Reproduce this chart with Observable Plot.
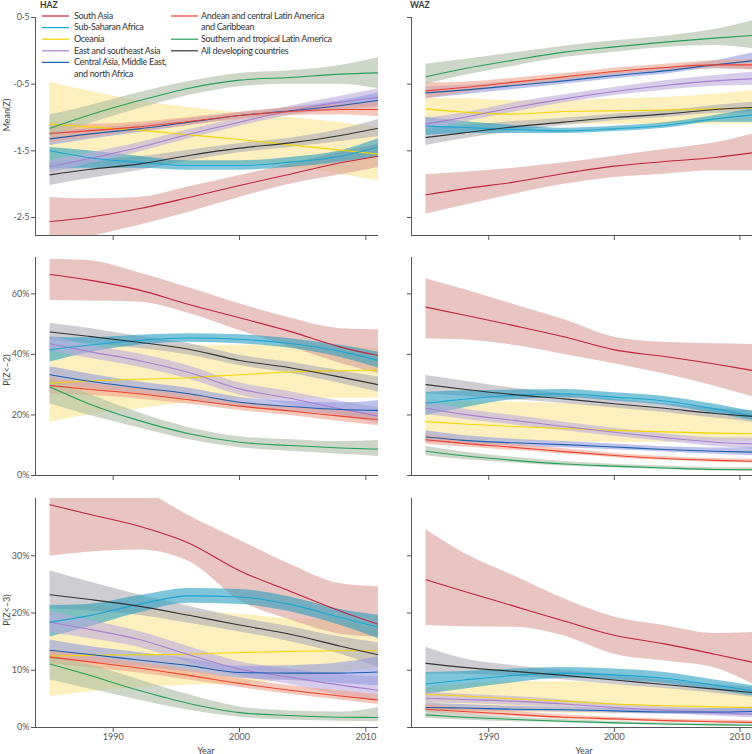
<!DOCTYPE html>
<html><head><meta charset="utf-8">
<script src="https://cdn.jsdelivr.net/npm/d3@7"></script>
<script src="https://cdn.jsdelivr.net/npm/@observablehq/plot@0.6"></script>
<style>
body{margin:0;background:#fff;}
#wrap{position:relative;width:752px;height:754px;overflow:hidden;font-family:Lato,"Open Sans",sans-serif;color:#333;}
.p{position:absolute;}
.t{position:absolute;white-space:nowrap;font-size:9px;letter-spacing:-0.3px;line-height:11.6px;color:#333;}
.ttl{position:absolute;font-weight:bold;font-size:8.5px;line-height:10px;color:#333;}
.yl{position:absolute;font-size:9px;color:#444;white-space:nowrap;transform:translate(-50%,-50%) rotate(-90deg);}
.xl{position:absolute;font-size:9px;color:#444;white-space:nowrap;transform:translate(-50%,-50%);}
#lgsvg{position:absolute;left:0;top:0;}
</style></head>
<body><div id="wrap"></div>
<script>
// ---------------- data ----------------
const years = [1985, 1988, 1992, 1996, 2000, 2004, 2008, 2011];
const regions = ["South Asia", "Sub-Saharan Africa", "Oceania", "East and southeast Asia",
  "Central Asia, Middle East, and north Africa", "Andean and central Latin America and Caribbean",
  "Southern and tropical Latin America", "All developing countries"];
const xTicks = [1990, 2000, 2010];
const meanTicks = [0.5, -0.5, -1.5, -2.5];
const p2Ticks = [0, 20, 40, 60];
const p3Ticks = [0, 10, 20, 30];

// HAZ mean(Z)
const hazMeanMid = [
  [-2.56, -2.5, -2.37, -2.2, -2.02, -1.85, -1.68, -1.58],
  [-1.5, -1.6, -1.67, -1.72, -1.72, -1.67, -1.58, -1.44],
  [-1.1, -1.14, -1.19, -1.26, -1.33, -1.41, -1.49, -1.55],
  [-1.74, -1.62, -1.45, -1.25, -1.07, -0.9, -0.77, -0.7],
  [-1.32, -1.25, -1.17, -1.07, -0.97, -0.9, -0.82, -0.74],
  [-1.24, -1.2, -1.14, -1.06, -0.97, -0.91, -0.88, -0.88],
  [-1.16, -0.97, -0.75, -0.56, -0.44, -0.4, -0.35, -0.33],
  [-1.86, -1.78, -1.7, -1.57, -1.46, -1.38, -1.27, -1.16]];
const hazMeanLo = [
  [-2.95, -2.8, -2.62, -2.42, -2.2, -2.0, -1.86, -1.75],
  [-1.78, -1.76, -1.76, -1.79, -1.79, -1.75, -1.67, -1.58],
  [-1.75, -1.72, -1.7, -1.7, -1.7, -1.75, -1.85, -1.95],
  [-1.83, -1.7, -1.52, -1.32, -1.13, -0.97, -0.85, -0.82],
  [-1.42, -1.33, -1.23, -1.12, -1.02, -0.95, -0.89, -0.85],
  [-1.38, -1.3, -1.21, -1.12, -1.03, -0.97, -0.96, -0.99],
  [-1.28, -1.1, -0.87, -0.67, -0.54, -0.5, -0.5, -0.57],
  [-2.02, -1.92, -1.8, -1.65, -1.53, -1.45, -1.36, -1.29]];
const hazMeanHi = [
  [-2.2, -2.22, -2.2, -2.04, -1.87, -1.7, -1.52, -1.4],
  [-1.45, -1.5, -1.58, -1.65, -1.65, -1.6, -1.5, -1.32],
  [-0.47, -0.6, -0.75, -0.85, -0.93, -1.0, -1.08, -1.15],
  [-1.65, -1.54, -1.38, -1.18, -1.01, -0.83, -0.68, -0.57],
  [-1.22, -1.17, -1.11, -1.02, -0.93, -0.85, -0.75, -0.63],
  [-1.1, -1.1, -1.07, -1.0, -0.92, -0.85, -0.8, -0.77],
  [-0.96, -0.83, -0.63, -0.46, -0.34, -0.3, -0.22, -0.1],
  [-1.68, -1.64, -1.59, -1.49, -1.39, -1.31, -1.18, -1.03]];

// WAZ mean(Z)
const wazMeanMid = [
  [-2.16, -2.07, -1.97, -1.84, -1.73, -1.66, -1.6, -1.53],
  [-1.13, -1.15, -1.18, -1.2, -1.17, -1.12, -1.02, -0.96],
  [-0.87, -0.92, -0.95, -0.91, -0.9, -0.89, -0.87, -0.86],
  [-1.1, -1.0, -0.85, -0.72, -0.61, -0.52, -0.45, -0.42],
  [-0.63, -0.59, -0.52, -0.45, -0.37, -0.3, -0.21, -0.15],
  [-0.6, -0.55, -0.47, -0.39, -0.31, -0.25, -0.21, -0.21],
  [-0.39, -0.27, -0.14, -0.02, 0.06, 0.13, 0.19, 0.23],
  [-1.3, -1.23, -1.14, -1.07, -1.0, -0.95, -0.88, -0.85]];
const wazMeanLo = [
  [-2.45, -2.32, -2.15, -2.0, -1.9, -1.85, -1.8, -1.8],
  [-1.27, -1.24, -1.24, -1.24, -1.21, -1.16, -1.07, -1.07],
  [-1.1, -1.12, -1.12, -1.1, -1.1, -1.1, -1.1, -1.1],
  [-1.18, -1.07, -0.92, -0.78, -0.67, -0.59, -0.53, -0.52],
  [-0.72, -0.66, -0.58, -0.5, -0.42, -0.35, -0.27, -0.28],
  [-0.72, -0.63, -0.53, -0.44, -0.36, -0.3, -0.27, -0.29],
  [-0.5, -0.37, -0.23, -0.1, -0.02, 0.05, 0.08, 0.03],
  [-1.42, -1.32, -1.21, -1.12, -1.05, -1.0, -0.94, -0.93]];
const wazMeanHi = [
  [-1.86, -1.82, -1.76, -1.68, -1.58, -1.48, -1.38, -1.25],
  [-1.0, -1.06, -1.12, -1.16, -1.13, -1.08, -0.97, -0.87],
  [-0.72, -0.72, -0.75, -0.75, -0.72, -0.7, -0.65, -0.6],
  [-1.02, -0.93, -0.78, -0.66, -0.55, -0.45, -0.37, -0.32],
  [-0.54, -0.52, -0.46, -0.4, -0.32, -0.25, -0.15, -0.03],
  [-0.48, -0.47, -0.41, -0.34, -0.26, -0.2, -0.15, -0.13],
  [-0.2, -0.13, -0.03, 0.07, 0.15, 0.22, 0.32, 0.45],
  [-1.15, -1.12, -1.06, -1.01, -0.95, -0.9, -0.82, -0.77]];

// HAZ P(Z<-2), %
const hazP2Mid = [
  [66.4, 64.6, 61.3, 56.5, 52.1, 47.6, 42.4, 39.6],
  [41.5, 43, 44.6, 45.4, 45, 43.6, 41, 38],
  [30.5, 31.2, 31.8, 32.3, 33.3, 34.2, 34.6, 34.8],
  [43.5, 41, 38, 34, 28.6, 25.5, 22, 19.6],
  [33.3, 31.2, 29, 27, 24.2, 22.8, 21.8, 21.5],
  [29.7, 28.5, 27, 25, 22.9, 21.3, 19.6, 18.4],
  [29.2, 23.8, 18.2, 13.8, 11, 9.9, 9.1, 8.7],
  [47.4, 46, 44, 41.7, 38, 35.6, 32.5, 30]];
const hazP2Lo = [
  [57.8, 57.6, 57.3, 53.5, 47.9, 42.5, 37, 33.6],
  [37.5, 40.5, 43, 44, 43.5, 42, 39, 35.5],
  [17.5, 20, 22, 24, 25, 25.5, 25.5, 25.5],
  [41, 38.8, 35.8, 31.8, 26.6, 23.3, 19.8, 17],
  [30.5, 28.8, 27, 25.2, 22.6, 21.2, 19.8, 18.2],
  [27, 26.5, 25.3, 23.5, 21.5, 19.8, 17.8, 16.4],
  [23.7, 20, 15.8, 11.8, 9.2, 8, 7, 6.3],
  [44.5, 43.5, 42, 39.8, 36.3, 33.8, 30.4, 27.5]];
const hazP2Hi = [
  [71.4, 71, 67, 62, 56.7, 52, 48.5, 48.1],
  [45.7, 45.5, 46.3, 46.8, 46.5, 45.2, 43, 40.7],
  [43, 43, 43, 43, 43, 43, 42.5, 42],
  [46, 43.2, 40.2, 36.2, 30.6, 27.7, 24.5, 22.5],
  [36, 33.6, 31, 28.8, 25.8, 24.4, 24, 24.8],
  [32.4, 30.5, 28.7, 26.5, 24.3, 22.8, 21.4, 20.4],
  [31.8, 27, 20.8, 15.8, 12.8, 11.8, 11.2, 11.6],
  [50.3, 48.6, 46, 43.6, 39.7, 37.4, 34.6, 32.5]];

// WAZ P(Z<-2), %
const wazP2Mid = [
  [55.6, 53, 49.5, 45.8, 41.5, 39.3, 36.8, 34.7],
  [23.9, 25.2, 26.5, 27, 25.9, 24.6, 22, 19.6],
  [17.8, 17, 16.2, 15.5, 14.9, 14.4, 14, 13.8],
  [22.2, 20.2, 18.2, 16.2, 14.3, 12.5, 11, 10.5],
  [12.7, 11.6, 10.8, 10.2, 9.4, 8.6, 8, 7.7],
  [11.8, 10.6, 9.3, 7.9, 6.6, 5.6, 5, 4.7],
  [8, 6.5, 5, 3.8, 3.1, 2.5, 2, 1.9],
  [30, 28.5, 26.7, 25.3, 23.7, 22.2, 20.5, 19.5]];
const wazP2Lo = [
  [45.2, 44.8, 43, 40, 36.9, 33.5, 29.5, 26],
  [19.8, 22.3, 25, 25.7, 24.6, 23.2, 20.5, 18.2],
  [12, 11.5, 11.3, 11.1, 11, 11, 11.3, 11.6],
  [20.2, 18.6, 16.7, 14.8, 13, 11.2, 9.6, 8.8],
  [11, 10.3, 9.7, 9.2, 8.5, 7.8, 7, 6.5],
  [10.3, 9.4, 8.3, 7.1, 5.9, 5, 4.4, 4.1],
  [6.5, 5.3, 4.1, 3.1, 2.5, 2, 1.5, 1.3],
  [27, 26.2, 25, 23.8, 22.3, 20.8, 19, 17.6]];
const wazP2Hi = [
  [65, 61.5, 56.5, 51.5, 45.7, 44, 43.5, 43.3],
  [27.5, 28, 28.2, 28.4, 27.3, 26.1, 23.5, 21.2],
  [24.5, 24.5, 24.2, 23.8, 23.2, 21.8, 20, 18.7],
  [24.5, 22, 19.8, 17.6, 15.6, 13.8, 12.5, 12.4],
  [14.8, 13.2, 12, 11.2, 10.4, 9.5, 9.1, 9.2],
  [13.5, 11.8, 10.3, 8.8, 7.3, 6.3, 5.6, 5.4],
  [9.6, 7.8, 6, 4.6, 3.7, 3.1, 2.6, 2.6],
  [33, 31.2, 28.8, 27, 25.2, 23.7, 22.1, 21.4]];

// HAZ P(Z<-3), %
const hazP3Mid = [
  [38.9, 37.3, 35.2, 32.2, 27.4, 23.8, 20.3, 18],
  [18.4, 19.5, 21.5, 23, 22.8, 21.5, 19.2, 17.5],
  [12.5, 12.6, 12.7, 12.8, 13.1, 13.3, 13.4, 13.4],
  [18.4, 17.2, 15.4, 12.7, 10.2, 8.8, 7.4, 6.5],
  [13.5, 12.8, 11.8, 10.8, 9.6, 9.5, 9.5, 9.7],
  [12.3, 11.5, 10.4, 9.1, 7.7, 6.5, 5.5, 4.8],
  [11.1, 9.2, 6.5, 4.2, 2.6, 2.1, 1.8, 1.75],
  [23.2, 22.4, 21.2, 19.6, 17.9, 16.3, 14.2, 12.7]];
const hazP3Lo = [
  [29.9, 30.6, 31, 29, 22.2, 18.8, 16.3, 15.8],
  [15.8, 17.5, 20, 21.7, 21.5, 20.2, 17.8, 15.5],
  [5.4, 6.2, 7, 7.4, 7.6, 8.5, 9.6, 10.5],
  [16.5, 15.6, 14, 11.3, 9, 7.5, 5.6, 4.7],
  [12, 11.5, 10.6, 9.7, 8.6, 8.2, 7.7, 7.3],
  [11.2, 10.5, 9.5, 8.3, 7, 5.8, 4.8, 4],
  [8.3, 6.8, 4.8, 3, 1.8, 1.3, 1.1, 1],
  [20.7, 20.4, 19.6, 18.2, 16.7, 15, 12.8, 10.5]];
const hazP3Hi = [
  [48, 46, 42, 37, 32.7, 28.5, 25.1, 24.6],
  [21.3, 21.5, 23, 24.3, 24.1, 22.8, 20.6, 19.6],
  [21, 21.3, 20.8, 20.2, 19.8, 19, 18.7, 17],
  [20.3, 18.8, 16.8, 14.1, 11.5, 10.2, 9.2, 8.8],
  [15.3, 14.2, 13.1, 12, 10.7, 10.8, 11.3, 12.3],
  [13.5, 12.5, 11.3, 10, 8.5, 7.3, 6.4, 5.7],
  [12.3, 11, 8.4, 5.7, 3.6, 2.9, 2.7, 3.5],
  [27.4, 25.5, 23.2, 21.2, 19.2, 17.6, 15.8, 14.8]];

// WAZ P(Z<-3), %
const wazP3Mid = [
  [25.8, 23.8, 21.2, 18.6, 16.1, 14.6, 12.8, 11.4],
  [7.6, 8.3, 9.1, 9.5, 9.2, 8.6, 7.4, 6.4],
  [5.8, 5.5, 5, 4.6, 4.1, 3.8, 3.6, 3.5],
  [5.1, 4.9, 4.6, 4.1, 3.5, 3, 2.6, 2.3],
  [3.5, 3.4, 3.2, 3.1, 2.9, 2.7, 2.7, 2.8],
  [3.2, 2.8, 2.3, 1.8, 1.5, 1.2, 1, 0.9],
  [2.2, 1.8, 1.4, 1.1, 0.8, 0.6, 0.45, 0.4],
  [11.2, 10.5, 9.8, 9.1, 8.3, 7.5, 6.7, 6.1]];
const wazP3Lo = [
  [17.8, 17.6, 17.5, 16, 12.8, 11.6, 10.4, 7.6],
  [5.8, 6.7, 7.8, 8.6, 8.3, 7.7, 6.5, 5.5],
  [3, 2.8, 2.6, 2.5, 2.4, 2.5, 2.6, 2.7],
  [4.3, 4.2, 3.9, 3.5, 3, 2.5, 2, 1.7],
  [2.9, 2.9, 2.8, 2.7, 2.5, 2.3, 2.2, 2.1],
  [2.6, 2.3, 1.9, 1.5, 1.2, 0.95, 0.8, 0.65],
  [1.6, 1.3, 1, 0.8, 0.55, 0.4, 0.3, 0.25],
  [9.3, 9.3, 8.9, 8.3, 7.5, 6.8, 6, 5.3]];
const wazP3Hi = [
  [34.6, 30.5, 26.5, 22.5, 19.3, 17.8, 16.4, 16.6],
  [9.6, 9.8, 10.2, 10.5, 10.2, 9.6, 8.3, 7.3],
  [7, 7.6, 8, 8, 7.6, 7, 6.4, 5.8],
  [6.2, 5.8, 5.4, 4.8, 4.1, 3.6, 3.3, 3.1],
  [4.3, 4, 3.7, 3.5, 3.3, 3.2, 3.3, 3.6],
  [4, 3.4, 2.8, 2.2, 1.8, 1.5, 1.3, 1.2],
  [3, 2.4, 1.8, 1.4, 1.05, 0.85, 0.7, 0.65],
  [14, 12, 10.8, 10, 9.1, 8.3, 7.5, 7]];

// ---------------- styles ----------------
const lineColors = ["#c4223f", "#1aa7d0", "#f2d400", "#a77fd0", "#1d5fae", "#f0402e", "#22a05a", "#333333"];
const bandColors = ["#d99e98", "#2a9fc0", "#fce693", "#bcacde", "#939bde", "#eea38a", "#acbca3", "#acacb4"];
const bandOrder = [2, 7, 0, 1, 3, 4, 5, 6];
const lineOrder = [2, 3, 4, 5, 6, 1, 7, 0];
const xDomain = [1983.85, 2011];

const wrap = document.getElementById("wrap");
const meanFmt = d => (d < 0 ? "-" : "") + Math.abs(d).toFixed(1).replace(".", "·");
const pctFmt = d => d + "%";

function panel(o) {
  const data = [];
  regions.forEach((r, i) => years.forEach((y, j) =>
    data.push({i, year: y, mid: o.mid[i][j], lo: o.lo[i][j], hi: o.hi[i][j]})));
  const marks = [];
  bandOrder.forEach(i => marks.push(Plot.areaY(data.filter(d => d.i === i),
    {x: "year", y1: "lo", y2: "hi", fill: bandColors[i], fillOpacity: 0.6, curve: "monotone-x", clip: true})));
  lineOrder.forEach(i => marks.push(Plot.lineY(data.filter(d => d.i === i),
    {x: "year", y: "mid", stroke: lineColors[i], strokeWidth: 1.1, curve: "monotone-x", clip: true})));
  marks.push(Plot.ruleX([xDomain[0]], {stroke: "#555", strokeWidth: 1}));
  marks.push(Plot.ruleY([o.domain[0]], {stroke: "#555", strokeWidth: 1}));
  marks.push(Plot.axisY({ticks: o.ticks, tickSize: 4, tickPadding: 2, label: null, color: "#555",
    tickFormat: o.yLabels ? o.fmt : () => ""}));
  marks.push(Plot.axisX({ticks: xTicks, tickSize: 5, tickPadding: 1, label: null, color: "#555",
    tickFormat: o.xLabels ? d => String(d) : () => ""}));
  const svg = Plot.plot({
    width: o.width, height: o.height,
    marginTop: o.mt, marginBottom: o.mb, marginLeft: 35, marginRight: o.mr,
    x: {domain: xDomain}, y: {domain: o.domain},
    style: {background: "transparent", fontFamily: "Lato, 'Open Sans', sans-serif", fontSize: "9px", overflow: "visible"},
    marks
  });
  const div = document.createElement("div");
  div.className = "p";
  div.style.left = o.left + "px";
  div.style.top = o.top + "px";
  div.appendChild(svg);
  wrap.appendChild(div);
}

const cols = [{left: 0, width: 380, mr: 2, yLabels: true}, {left: 376, width: 376, mr: 0, yLabels: false}];
const rows = [
  {top: 0, height: 245, mt: 17, mb: 10, domain: [-2.77, 0.5], ticks: meanTicks, fmt: meanFmt, xLabels: false,
   data: [[hazMeanMid, hazMeanLo, hazMeanHi], [wazMeanMid, wazMeanLo, wazMeanHi]]},
  {top: 245, height: 240, mt: 12, mb: 10, domain: [0, 72], ticks: p2Ticks, fmt: pctFmt, xLabels: false,
   data: [[hazP2Mid, hazP2Lo, hazP2Hi], [wazP2Mid, wazP2Lo, wazP2Hi]]},
  {top: 485, height: 269, mt: 13, mb: 27, domain: [0, 40], ticks: p3Ticks, fmt: pctFmt, xLabels: true,
   data: [[hazP3Mid, hazP3Lo, hazP3Hi], [wazP3Mid, wazP3Lo, wazP3Hi]]}
];
rows.forEach(r => cols.forEach((c, ci) => {
  const [mid, lo, hi] = r.data[ci];
  panel({...r, ...c, mid, lo, hi});
}));

// ---------------- text ----------------
function addText(cls, txt, x, y, extra) {
  const e = document.createElement("div");
  e.className = cls; e.textContent = txt;
  e.style.left = x + "px"; e.style.top = y + "px";
  if (extra) Object.assign(e.style, extra);
  wrap.appendChild(e);
  return e;
}
addText("ttl", "HAZ", 40, 0);
addText("ttl", "WAZ", 410, 0);
addText("yl", "Mean(Z)", 6, 115);
addText("yl", "P(Z<\u20132)", 6, 370);
addText("yl", "P(Z<\u20133)", 6, 610);
addText("xl", "Year", 206, 750);
addText("xl", "Year", 584, 750);

// legend
const NS = "http://www.w3.org/2000/svg";
const lg = document.createElementNS(NS, "svg");
lg.setAttribute("id", "lgsvg");
lg.setAttribute("width", 380); lg.setAttribute("height", 90);
wrap.appendChild(lg);
const legendCols = [
  {lx: 42, tx: 74, items: [[0, [regions[0]]], [1, [regions[1]]], [2, [regions[2]]], [3, [regions[3]]],
    [4, ["Central Asia, Middle East,", "and north Africa"]]]},
  {lx: 171, tx: 201, items: [[5, ["Andean and central Latin America", "and Caribbean"]],
    [6, [regions[6]]], [7, [regions[7]]]]}
];
legendCols.forEach(col => {
  let y = 16;
  col.items.forEach(([i, lines]) => {
    const l = document.createElementNS(NS, "line");
    l.setAttribute("x1", col.lx); l.setAttribute("x2", col.lx + 27);
    l.setAttribute("y1", y); l.setAttribute("y2", y);
    l.setAttribute("stroke", lineColors[i]); l.setAttribute("stroke-width", 1.2);
    lg.appendChild(l);
    lines.forEach(t => { addText("t", t, col.tx, y - 6.3); y += 11.6; });
  });
});
</script>
</body></html>
